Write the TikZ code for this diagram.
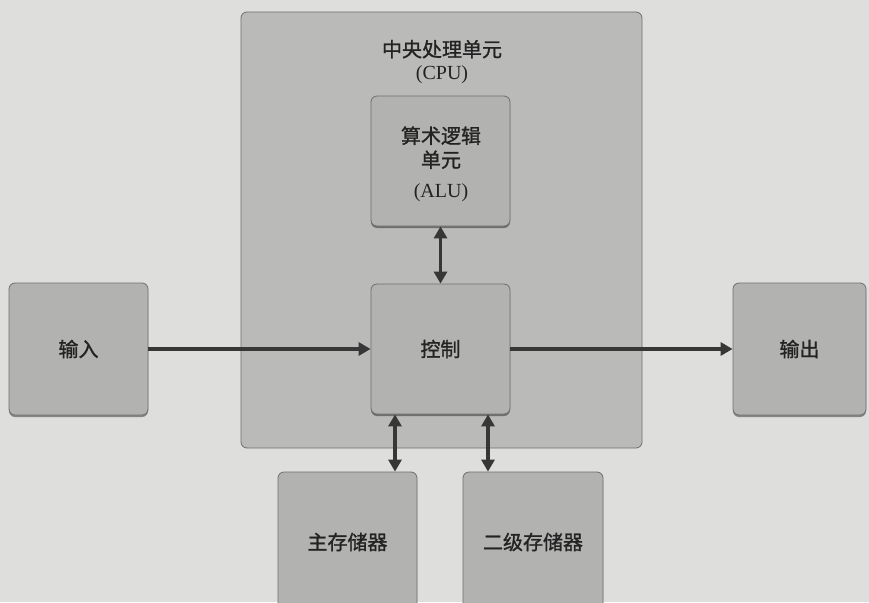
\documentclass[tikz,border=0pt]{standalone}
\usepackage{fontspec}
\setmainfont{Liberation Serif}
\newfontfamily\cjk[FakeBold=1.2]{Noto Sans CJK SC}
\usetikzlibrary{arrows.meta,shadows}
\definecolor{bgcol}{RGB}{222,222,220}
\definecolor{boxcol}{RGB}{178,178,176}
\definecolor{cpucol}{RGB}{186,186,184}
\definecolor{edgecol}{RGB}{110,110,108}
\definecolor{arrcol}{RGB}{55,55,55}
\definecolor{txtcol}{RGB}{35,35,35}
\tikzset{
  unit/.style={draw=edgecol, line width=0.8pt, fill=boxcol, rounded corners=6pt,
    inner sep=0pt, align=center, text=txtcol,
    font=\cjk\fontsize{20}{25}\selectfont,
    drop shadow={shadow xshift=0pt, shadow yshift=-2pt, opacity=0.4, fill=black}},
  cpubox/.style={draw=edgecol, line width=0.8pt, fill=cpucol, rounded corners=6pt, inner sep=0pt},
  link/.style={draw=arrcol, line width=3.4pt, -{Triangle[length=12pt,width=13pt]}},
  dlink/.style={draw=arrcol, line width=3.4pt, {Triangle[length=12pt,width=13pt]}-{Triangle[length=12pt,width=13pt]}},
}
\begin{document}
\begin{tikzpicture}[x=1pt,y=-1pt]
\useasboundingbox (0,0) rectangle (869,602);
\fill[bgcol] (0,0) rectangle (869,602);
\clip (0,0) rectangle (869,602);
\node[cpubox, minimum width=401pt, minimum height=436pt] (cpu) at (441.5,230) {};
\node[align=center, text=txtcol, font=\fontsize{20}{23}\selectfont] (cputitle) at (442,62)
  {{\cjk 中央处理单元}\\(CPU)};
\node[unit, minimum width=139pt, minimum height=130pt] (alu) at (440.5,161) {};
\node[align=center, text=txtcol, font=\cjk\fontsize{20}{24}\selectfont] (alutext) at (441,164)
  {算术逻辑\\单元\\[6pt]{\rmfamily (ALU)}};
\node[unit, minimum width=139pt, minimum height=130pt] (ctrl) at (440.5,349) {控制};
\node[unit, minimum width=139pt, minimum height=132pt] (in) at (78.5,349) {输入};
\node[unit, minimum width=133pt, minimum height=132pt] (out) at (799.5,349) {输出};
\node[unit, minimum width=139pt, minimum height=140pt] (mem) at (347.5,542) {主存储器};
\node[unit, minimum width=140pt, minimum height=140pt] (sec) at (533,542) {二级存储器};
\draw[link] (in.east) -- (ctrl.west);
\draw[link] (ctrl.east) -- (out.west);
\draw[dlink] (alu.south) -- (ctrl.north);
\draw[dlink] ([xshift=-45.5pt]ctrl.south) -- ([xshift=-45.5pt]ctrl.south |- mem.north);
\draw[dlink] ([xshift=47.5pt]ctrl.south) -- ([xshift=47.5pt]ctrl.south |- sec.north);
\end{tikzpicture}
\end{document}
